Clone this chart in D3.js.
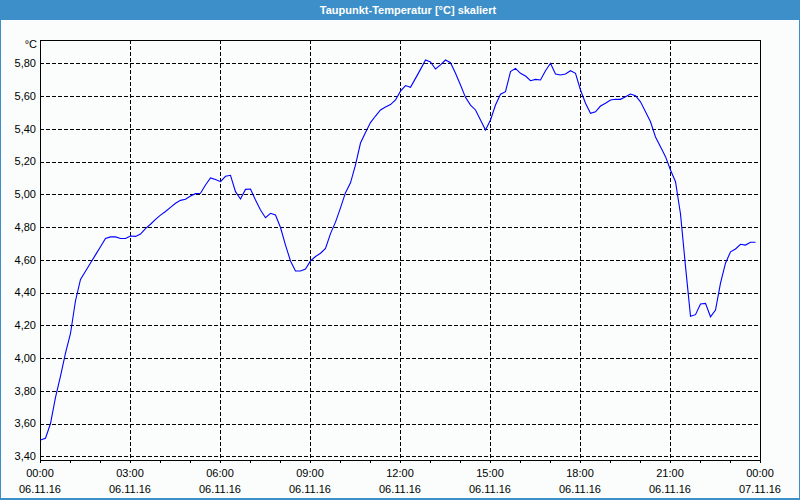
<!DOCTYPE html>
<html><head><meta charset="utf-8">
<script src="https://cdn.jsdelivr.net/npm/d3@7"></script>
<style>
html,body{margin:0;padding:0;background:#fff;}
svg{display:block;}
text{font-family:"Liberation Sans",Arial,sans-serif;}
</style></head>
<body>
<script>
const title = "Taupunkt-Temperatur [°C] skaliert";
const unitLabel = "°C";
const times = [
"00:00","00:10","00:20","00:30","00:40","00:50","01:00","01:10","01:20","01:30","01:40","01:50",
"02:00","02:10","02:20","02:30","02:40","02:50","03:00","03:10","03:20","03:30","03:40","03:50",
"04:00","04:10","04:20","04:30","04:40","04:50","05:00","05:10","05:20","05:30","05:40","05:50",
"06:00","06:10","06:20","06:30","06:40","06:50","07:00","07:10","07:20","07:30","07:40","07:50",
"08:00","08:10","08:20","08:30","08:40","08:50","09:00","09:10","09:20","09:30","09:40","09:50",
"10:00","10:10","10:20","10:30","10:40","10:50","11:00","11:10","11:20","11:30","11:40","11:50",
"12:00","12:10","12:20","12:30","12:40","12:50","13:00","13:10","13:20","13:30","13:40","13:50",
"14:00","14:10","14:20","14:30","14:40","14:50","15:00","15:10","15:20","15:30","15:40","15:50",
"16:00","16:10","16:20","16:30","16:40","16:50","17:00","17:10","17:20","17:30","17:40","17:50",
"18:00","18:10","18:20","18:30","18:40","18:50","19:00","19:10","19:20","19:30","19:40","19:50",
"20:00","20:10","20:20","20:30","20:40","20:50","21:00","21:10","21:20","21:30","21:40","21:50",
"22:00","22:10","22:20","22:30","22:40","22:50","23:00","23:10","23:20","23:30","23:40","23:50"];
const values = [
3.50,3.51,3.60,3.76,3.89,4.03,4.15,4.35,4.48,4.53,4.58,4.63,
4.68,4.73,4.74,4.74,4.73,4.73,4.745,4.743,4.757,4.79,4.817,4.847,
4.873,4.895,4.92,4.945,4.963,4.97,4.99,5.004,5.006,5.057,5.10,5.09,
5.077,5.11,5.116,5.016,4.971,5.03,5.032,4.965,4.904,4.857,4.884,4.874,
4.797,4.69,4.593,4.532,4.532,4.544,4.593,4.62,4.64,4.67,4.76,4.83,
4.917,5.01,5.07,5.18,5.313,5.377,5.438,5.478,5.515,5.533,5.548,5.576,
5.63,5.664,5.653,5.708,5.763,5.82,5.808,5.765,5.79,5.82,5.804,5.739,
5.667,5.592,5.545,5.515,5.454,5.393,5.454,5.545,5.611,5.627,5.749,5.769,
5.739,5.722,5.694,5.702,5.698,5.755,5.80,5.735,5.729,5.735,5.755,5.739,
5.637,5.556,5.495,5.504,5.539,5.556,5.576,5.58,5.58,5.596,5.612,5.602,
5.565,5.504,5.443,5.35,5.291,5.23,5.148,5.077,4.88,4.56,4.255,4.265,
4.33,4.334,4.252,4.293,4.458,4.579,4.649,4.666,4.695,4.69,4.707,4.707];
const yTicks = [3.40,3.60,3.80,4.00,4.20,4.40,4.60,4.80,5.00,5.20,5.40,5.60,5.80];
const xTickTimes = ["00:00","03:00","06:00","09:00","12:00","15:00","18:00","21:00","24:00"];
const xTickTimeLabels = ["00:00","03:00","06:00","09:00","12:00","15:00","18:00","21:00","00:00"];
const xTickDateLabels = ["06.11.16","06.11.16","06.11.16","06.11.16","06.11.16","06.11.16","06.11.16","06.11.16","07.11.16"];
const hourTicks = ["01:00","02:00","04:00","05:00","07:00","08:00","10:00","11:00","13:00","14:00","16:00","17:00","19:00","20:00","22:00","23:00"];

const W = 800, H = 500;
const m = {l:40, t:40, r:760, b:460};
const toMin = s => { const [h,mm] = s.split(":").map(Number); return h*60+mm; };

const svg = d3.select("body").append("svg").attr("width",W).attr("height",H);

// background & frame
svg.append("rect").attr("x",0).attr("y",0).attr("width",W).attr("height",H).attr("fill","#fafdfb");
svg.append("rect").attr("x",0.5).attr("y",0.5).attr("width",W-1).attr("height",H-1.5)
  .attr("fill","none").attr("stroke","#3c8fc8").attr("stroke-width",1);
svg.append("rect").attr("x",0).attr("y",H-2).attr("width",W).attr("height",2).attr("fill","#3c8fc8");
svg.append("rect").attr("x",0).attr("y",0).attr("width",W).attr("height",20).attr("fill","#3c8fc8");
svg.append("text").attr("x",408).attr("y",14).attr("text-anchor","middle")
  .attr("fill","#fff").attr("font-size","11px").attr("font-weight","bold").text(title);

const x = d3.scaleLinear().domain([0, 1440]).range([m.l, m.r]);
const y = d3.scaleLinear().domain([3.3774, 5.9423]).range([m.b, m.t]);

const crisp = v => Math.round(v) + 0.5;

// horizontal grid
svg.append("g").selectAll("line").data(yTicks).join("line")
  .attr("x1",m.l).attr("x2",m.r)
  .attr("y1",d=>crisp(y(d))).attr("y2",d=>crisp(y(d)))
  .attr("stroke","#000").attr("stroke-dasharray","4,2").attr("shape-rendering","crispEdges");
// vertical grid
svg.append("g").selectAll("line").data(xTickTimes.slice(1,-1)).join("line")
  .attr("x1",d=>crisp(x(toMin(d)))).attr("x2",d=>crisp(x(toMin(d))))
  .attr("y1",m.t).attr("y2",m.b)
  .attr("stroke","#000").attr("stroke-dasharray","4,2").attr("shape-rendering","crispEdges");

// y labels
svg.append("g").selectAll("text").data(yTicks).join("text")
  .attr("x",36).attr("y",d=>y(d)).attr("dy","0.35em").attr("text-anchor","end")
  .attr("font-size","11px").attr("fill","#000")
  .text(d=>d3.format(".2f")(d).replace(".",","));
svg.append("text").attr("x",37).attr("y",48).attr("text-anchor","end")
  .attr("font-size","11px").attr("fill","#000").text(unitLabel);

// x ticks (hourly minor) and labels
svg.append("g").selectAll("line").data(hourTicks.concat(xTickTimes)).join("line")
  .attr("x1",d=>crisp(x(toMin(d)))).attr("x2",d=>crisp(x(toMin(d))))
  .attr("y1",m.b).attr("y2",m.b+3)
  .attr("stroke","#000").attr("shape-rendering","crispEdges");
svg.append("g").selectAll("text").data(xTickTimes).join("text")
  .attr("x",d=>x(toMin(d))).attr("y",477).attr("text-anchor","middle")
  .attr("font-size","11px").attr("fill","#000")
  .text((d,i)=>xTickTimeLabels[i]);
svg.append("g").selectAll("text").data(xTickTimes).join("text")
  .attr("x",d=>x(toMin(d))).attr("y",493).attr("text-anchor","middle")
  .attr("font-size","11px").attr("fill","#000")
  .text((d,i)=>xTickDateLabels[i]);

// frame
svg.append("rect").attr("x",m.l+0.5).attr("y",m.t+0.5).attr("width",m.r-m.l).attr("height",m.b-m.t)
  .attr("fill","none").attr("stroke","#000").attr("shape-rendering","crispEdges");

// data line
const data = times.map((t,i)=>({t:toMin(t), v:values[i]}));
svg.append("path").datum(data)
  .attr("fill","none").attr("stroke","#0000ff").attr("stroke-width",1.1)
  .attr("d", d3.line().x(d=>x(d.t)+0.5).y(d=>y(d.v)));
</script>
</body></html>
